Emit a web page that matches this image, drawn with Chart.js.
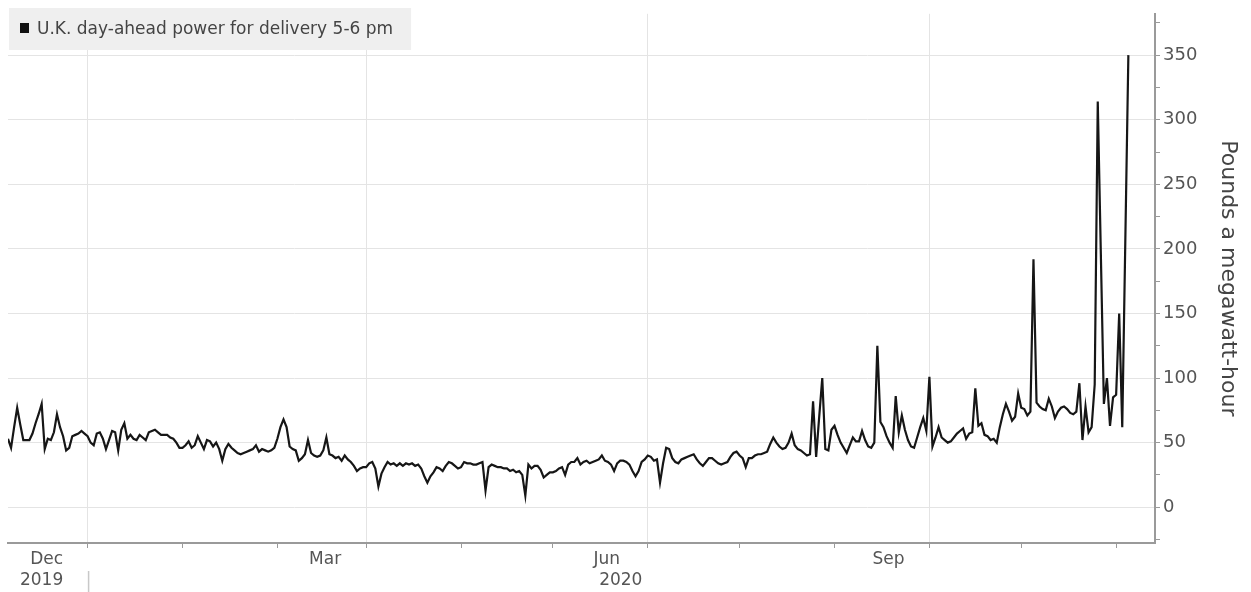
<!DOCTYPE html>
<html>
<head>
<meta charset="utf-8">
<script src="https://cdn.jsdelivr.net/npm/chart.js@4.4.1/dist/chart.umd.min.js"></script>
<style>
  html, body { margin: 0; padding: 0; background: #fff; }
  canvas { display: block; }
</style>
</head>
<body>
<canvas id="myChart" width="1251" height="592"></canvas>
<script>
const seriesLabel = "U.K. day-ahead power for delivery 5-6 pm";
const axisTitle = "Pounds a megawatt-hour";
const firstDay = "2019-11-05";

// daily prices, one array per month (Nov 5 2019 .. Nov 5 2020)
const nov2019 = [53, 46, 62, 77, 64, 52, 52, 52, 57, 65, 72, 80, 45, 53, 52, 58, 72, 62, 55, 44, 46, 55, 56, 57, 59, 57];
const dec2019 = [55, 50, 48, 57, 58, 53, 45, 52, 59, 58, 44, 60, 65, 53, 56, 53, 52, 56, 54, 52, 58, 59, 60, 58, 56, 56, 56, 54, 53, 50, 46];
const jan2020 = [46, 48, 51, 46, 48, 55, 50, 45, 52, 51, 47, 50, 45, 36, 45, 49, 46, 44, 42, 41, 42, 43, 44, 45, 48, 43, 45, 44, 43, 44, 46];
const feb2020 = [53, 62, 68, 62, 47, 45, 44, 36, 38, 41, 52, 42, 40, 39, 40, 44, 54, 41, 40, 38, 39, 36, 40, 37, 35, 32, 28, 30, 31];
const mar2020 = [31, 34, 35, 30, 16, 26, 31, 35, 33, 34, 32, 34, 32, 34, 33, 34, 32, 33, 30, 24, 19, 24, 27, 31, 30, 28, 32, 35, 34, 32, 30];
const apr2020 = [31, 35, 34, 34, 33, 33, 34, 35, 13, 31, 33, 32, 31, 31, 30, 30, 28, 29, 27, 28, 25, 9, 33, 30, 32, 32, 29, 23, 25, 27];
const may2020 = [27, 28, 30, 31, 25, 33, 35, 35, 38, 33, 35, 36, 34, 35, 36, 37, 40, 36, 35, 33, 28, 34, 36, 36, 35, 33, 28, 24, 28, 35, 37];
const jun2020 = [40, 39, 36, 37, 19, 34, 46, 45, 38, 35, 34, 37, 38, 39, 40, 41, 37, 34, 32, 35, 38, 38, 36, 34, 33, 34, 35, 39, 42, 43];
const jul2020 = [40, 38, 31, 38, 38, 40, 41, 41, 42, 43, 49, 54, 50, 47, 45, 46, 50, 57, 48, 45, 44, 42, 40, 41, 82, 39, 70, 100, 45, 44, 60];
const aug2020 = [63, 56, 50, 46, 42, 48, 54, 51, 51, 59, 52, 47, 46, 50, 125, 66, 62, 55, 50, 46, 86, 58, 71, 60, 52, 47, 46, 54, 62, 69, 59];
const sep2020 = [101, 47, 54, 62, 54, 52, 50, 51, 54, 57, 59, 61, 53, 57, 58, 92, 63, 65, 56, 55, 52, 53, 50, 62, 72, 80, 74, 67, 70, 88];
const oct2020 = [77, 76, 71, 74, 192, 81, 78, 76, 75, 84, 78, 69, 74, 77, 78, 76, 73, 72, 74, 96, 52, 78, 58, 62, 95, 314, 197, 80, 100, 63, 85];
const nov2020 = [87, 150, 62, 206, 350];

const prices = [].concat(nov2019, dec2019, jan2020, feb2020, mar2020, apr2020,
  may2020, jun2020, jul2020, aug2020, sep2020, oct2020, nov2020);

const monthStarts = ["2019-12-01", "2020-01-01", "2020-02-01", "2020-03-01", "2020-04-01", "2020-05-01",
  "2020-06-01", "2020-07-01", "2020-08-01", "2020-09-01", "2020-10-01", "2020-11-01"];
const labelledMonths = ["2019-12-01", "2020-03-01", "2020-06-01", "2020-09-01"];
const monthLabels = ["Dec", "Mar", "Jun", "Sep"];
const yearMonths = ["2019-12-01", "2020-06-01"];
const yearLabels = ["2019", "2020"];
const yTicks = [-25, 0, 25, 50, 75, 100, 125, 150, 175, 200, 225, 250, 275, 300, 325, 350, 375];

function dayIndex(dateStr) {
  return Math.round((Date.parse(dateStr + "T00:00:00Z") - Date.parse(firstDay + "T00:00:00Z")) / 86400000);
}

function labelIndex(value) {
  return labelledMonths.findIndex((d) => dayIndex(d) === value);
}

const points = prices.map((v, i) => ({ x: i, y: v }));

const legendBox = {
  id: "legendBox",
  afterDraw(chart) {
    const ctx = chart.ctx;
    const area = chart.chartArea;
    const xScale = chart.scales.x;
    ctx.save();
    ctx.font = "17px 'DejaVu Sans'";
    const w = ctx.measureText(seriesLabel).width;
    ctx.fillStyle = "#efefef";
    ctx.fillRect(area.left + 1, 8, w + 46, 42);
    ctx.fillStyle = "#111";
    ctx.fillRect(area.left + 12, 23, 9, 10);
    ctx.fillStyle = "#444";
    ctx.textBaseline = "middle";
    ctx.fillText(seriesLabel, area.left + 29, 30);

    // year row under the month labels
    ctx.fillStyle = "#555";
    ctx.textAlign = "center";
    yearLabels.forEach((yr, i) => {
      const px = xScale.getPixelForValue(dayIndex(yearMonths[i]));
      ctx.fillText(yr, i === 0 ? px - 46 : px - 27, area.bottom + 38);
    });

    // small separator after the first year label
    const xs = xScale.getPixelForValue(dayIndex(yearMonths[0]));
    ctx.strokeStyle = "#c8c8c8";
    ctx.lineWidth = 1.5;
    ctx.beginPath();
    ctx.moveTo(xs + 1, area.bottom + 28);
    ctx.lineTo(xs + 1, chart.height);
    ctx.stroke();
    ctx.restore();
  },
};

const data = {
  datasets: [
    {
      label: seriesLabel,
      data: points,
      borderColor: "#161616",
      borderWidth: 2.2,
      pointRadius: 0,
      tension: 0,
    },
  ],
};

const config = {
  type: "line",
  data: data,
  plugins: [legendBox],
  options: {
    responsive: false,
    animation: false,
    layout: { padding: { left: 8, top: 10, right: 0, bottom: 0 } },
    plugins: {
      legend: { display: false },
      tooltip: { enabled: false },
    },
    scales: {
      x: {
        type: "linear",
        min: 0,
        max: 374.7,
        afterBuildTicks: (axis) => {
          axis.ticks = monthStarts.map((d) => ({ value: dayIndex(d) }));
        },
        afterFit: (axis) => {
          axis.height = 49;
        },
        border: { color: "#9a9a9a", width: 2 },
        grid: {
          color: (ctx) => (ctx.tick && labelIndex(ctx.tick.value) >= 0 ? "#e4e4e4" : "rgba(0,0,0,0)"),
          tickColor: "#9a9a9a",
          tickLength: 5,
        },
        ticks: {
          autoSkip: false,
          maxRotation: 0,
          labelOffset: -41,
          padding: 1,
          color: "#555",
          font: { family: "'DejaVu Sans'", size: 17 },
          callback: (value) => {
            const k = labelIndex(value);
            return k >= 0 ? monthLabels[k] : "";
          },
        },
      },
      y: {
        position: "right",
        min: -27.7,
        max: 382,
        afterBuildTicks: (axis) => {
          axis.ticks = yTicks.map((v) => ({ value: v }));
        },
        afterFit: (axis) => {
          axis.width = 96;
        },
        border: { color: "#9a9a9a", width: 2 },
        grid: {
          color: (ctx) => (ctx.tick && ctx.tick.value >= 0 && ctx.tick.value % 50 === 0 ? "#e4e4e4" : "rgba(0,0,0,0)"),
          tickColor: "#9a9a9a",
          tickLength: 5,
        },
        ticks: {
          padding: 3,
          color: "#555",
          font: { family: "'DejaVu Sans'", size: 18 },
          callback: (value) => (value >= 0 && value % 50 === 0 ? String(value) : ""),
        },
        title: {
          display: true,
          text: axisTitle,
          color: "#444",
          font: { family: "'DejaVu Sans'", size: 22 },
          padding: { top: 10, bottom: 0 },
        },
      },
    },
  },
};

var myChart = new Chart(document.getElementById("myChart"), config);
</script>
</body>
</html>
